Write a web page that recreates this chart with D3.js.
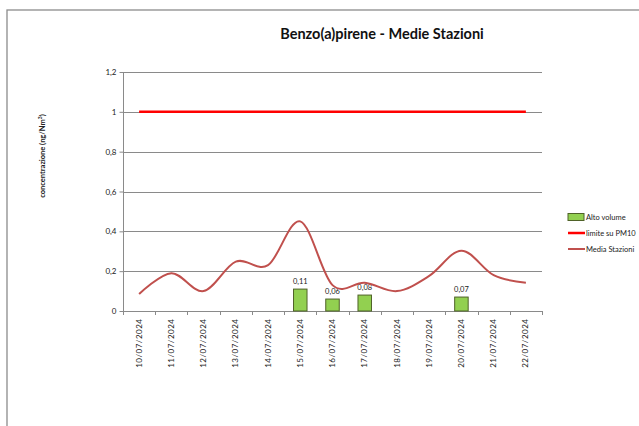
<!DOCTYPE html>
<html><head><meta charset="utf-8">
<script src="https://cdn.jsdelivr.net/npm/d3@7"></script>
<style>body{margin:0;background:#fff}svg{display:block}text{font-family:Lato,"Open Sans",sans-serif}</style>
</head><body><svg id="c" width="639" height="426"></svg>
<script>
const dates = ["10/07/2024","11/07/2024","12/07/2024","13/07/2024","14/07/2024","15/07/2024","16/07/2024","17/07/2024","18/07/2024","19/07/2024","20/07/2024","21/07/2024","22/07/2024"];
const altoVolume = [null,null,null,null,null,0.11,0.06,0.08,null,null,0.07,null,null];
const limitePM10 = [1,1,1,1,1,1,1,1,1,1,1,1,1];
const mediaStazioni = [0.085,0.19,0.10,0.248,0.23,0.45,0.13,0.142,0.10,0.176,0.303,0.18,0.142];
const yTicks = [0,0.2,0.4,0.6,0.8,1,1.2];
const seriesNames = ["Alto volume","limite su PM10","Media Stazioni"];

const svg = d3.select("#c");
const fmt = v => String(v).replace(".", ",");
// frame
svg.append("rect").attr("x",7).attr("y",10).attr("width",700).attr("height",500)
  .attr("fill","none").attr("stroke","#8c8c8c").attr("stroke-width",1.3);

const L=123, R=542, T=72, B=311;
const x = d3.scaleBand().domain(dates).range([L,R]);
const y = d3.scaleLinear().domain([0,1.2]).range([B,T]);

// title
svg.append("text").attr("x",382).attr("y",39).attr("text-anchor","middle")
  .attr("font-weight","bold").attr("font-size",14.5).attr("fill","#111")
  .text("Benzo(a)pirene - Medie Stazioni");

// gridlines
svg.append("g").selectAll("line").data(yTicks.filter(d=>d>0)).join("line")
  .attr("x1",L).attr("x2",R).attr("y1",d=>Math.round(y(d))+0.5).attr("y2",d=>Math.round(y(d))+0.5)
  .attr("stroke","#8a8a8a").attr("stroke-width",1);

// y axis
const ya = svg.append("g").attr("transform",`translate(${L+0.5},0)`)
  .call(d3.axisLeft(y).tickValues(yTicks).tickFormat(fmt).tickSize(4).tickPadding(3));
ya.selectAll("path,line").attr("stroke","#8a8a8a");
ya.select(".domain").attr("d",`M0,${T}V${B}`);
ya.selectAll("text").attr("font-size",8).attr("fill","#222").attr("font-family","Lato,sans-serif");

// x axis
const xa = svg.append("g").attr("transform",`translate(0,${B+0.5})`)
  .call(d3.axisBottom(x).tickSize(0).tickPadding(0));
xa.select(".domain").attr("d",`M${L},0H${R}`).attr("stroke","#8a8a8a");
xa.selectAll(".tick line").remove();
xa.selectAll("text").attr("font-size",8).attr("letter-spacing",0.5).attr("fill","#222").attr("font-family","Lato,sans-serif")
  .attr("text-anchor","end").attr("dy","0.32em")
  .attr("transform","translate(0,7) rotate(-90)").attr("x",0).attr("y",0);
svg.append("g").selectAll("line").data(d3.range(dates.length+1)).join("line")
  .attr("x1",i=>Math.round(L+i*x.step())+0.5).attr("x2",i=>Math.round(L+i*x.step())+0.5)
  .attr("y1",B).attr("y2",B+4).attr("stroke","#8a8a8a");

// bars
const bw = 13.5;
const barData = dates.map((d,i)=>({d,v:altoVolume[i]})).filter(o=>o.v!=null);
svg.append("g").selectAll("rect").data(barData).join("rect")
  .attr("x",o=>x(o.d)+x.bandwidth()/2-bw/2).attr("width",bw)
  .attr("y",o=>y(o.v)).attr("height",o=>y(0)-y(o.v))
  .attr("fill","#92D050").attr("stroke","#4F6228").attr("stroke-width",1);
svg.append("g").selectAll("text").data(barData).join("text")
  .attr("x",o=>x(o.d)+x.bandwidth()/2).attr("y",o=>y(o.v)-5)
  .attr("text-anchor","middle").attr("font-size",7.5).attr("fill","#222").text(o=>fmt(o.v));

// limit line
const cx = d => x(d)+x.bandwidth()/2;
svg.append("path").datum(dates.map((d,i)=>[cx(d),y(limitePM10[i])]))
  .attr("d",d3.line()).attr("fill","none").attr("stroke","#FF0000").attr("stroke-width",2.5);

// media line
svg.append("path").datum(dates.map((d,i)=>[cx(d),y(mediaStazioni[i])]))
  .attr("d",d3.line().curve(d3.curveCardinal.tension(0)))
  .attr("fill","none").attr("stroke","#C0504D").attr("stroke-width",2);

// y label
svg.append("text").attr("transform","translate(45,156) rotate(-90)").attr("text-anchor","middle")
  .attr("font-size",7.5).attr("font-weight","bold").attr("fill","#222")
  .html('concentrazione (ng/Nm<tspan dy="-3" font-size="5">3</tspan><tspan dy="3">)</tspan>');

// legend
const lg = svg.append("g");
const ly = [217,233,249];
lg.append("rect").attr("x",568).attr("y",ly[0]-3.5).attr("width",16).attr("height",7)
  .attr("fill","#92D050").attr("stroke","#4F6228").attr("stroke-width",1);
lg.append("line").attr("x1",568).attr("x2",585).attr("y1",ly[1]).attr("y2",ly[1]).attr("stroke","#FF0000").attr("stroke-width",2.5);
lg.append("line").attr("x1",568).attr("x2",585).attr("y1",ly[2]).attr("y2",ly[2]).attr("stroke","#C0504D").attr("stroke-width",2);
lg.selectAll("text").data(seriesNames).join("text")
  .attr("x",586).attr("y",(d,i)=>ly[i]).attr("dy","0.35em").attr("font-size",7.5).attr("fill","#222").text(d=>d);
</script></body></html>
